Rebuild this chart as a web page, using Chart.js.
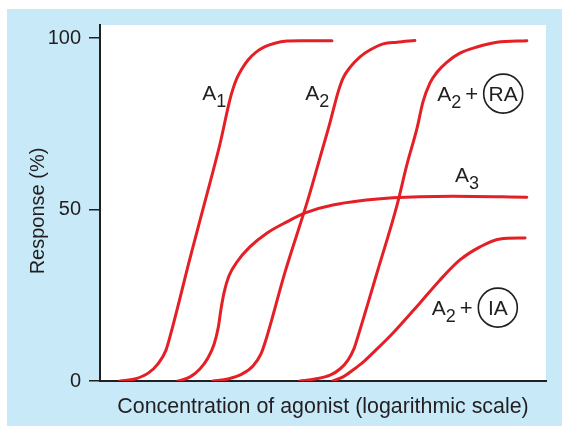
<!DOCTYPE html>
<html><head><meta charset="utf-8">
<script src="https://cdn.jsdelivr.net/npm/chart.js@4"></script>
<style>html,body{margin:0;padding:0;background:#fff;}canvas{display:block;}</style>
</head><body>
<canvas id="c" width="562" height="426"></canvas>
<script>
// ---- data (x: concentration, log scale, arbitrary units; y: response %) ----
const X_MIN = 0, X_MAX = 100;
const Y_MIN = 0, Y_MAX = 103.8;
const Y_TICKS = [0, 50, 100];

const A1_X = [4.5, 7.8, 10.8, 13.0, 14.8, 16.1, 20.2, 23.8, 26.9, 29.1, 29.8, 30.7, 31.8, 33.2, 35.0, 37.0, 39.2, 41.9, 44.8, 52.0];
const A1_Y = [0, 0.6, 2.3, 5.0, 9.0, 14.9, 35.9, 53.6, 69.1, 81.9, 85.1, 88.3, 91.0, 93.6, 95.9, 97.5, 98.5, 99.1, 99.2, 99.2];

const A2_X = [25.3, 28.7, 31.8, 34.3, 36.1, 37.2, 41.5, 46.6, 49.3, 51.6, 53.4, 54.5, 56.1, 58.3, 60.5, 63.5, 66.6, 70.6];
const A2_Y = [0, 0.6, 2.0, 4.4, 7.9, 12.0, 31.8, 52.8, 65.0, 75.5, 84.3, 88.3, 91.5, 94.5, 96.5, 98.3, 98.8, 99.3];

const A2RA_X = [44.8, 48.2, 51.6, 53.8, 55.6, 57.0, 57.6, 62.1, 66.6, 68.8, 71.1, 72.4, 74.0, 75.6, 77.8, 80.7, 84.5, 89.0, 95.7];
const A2RA_Y = [0, 0.6, 1.7, 3.5, 6.1, 9.6, 12.0, 31.5, 51.3, 63.0, 73.8, 81.3, 86.9, 90.1, 93.0, 95.6, 97.4, 98.8, 99.2];

const A3_X = [17.5, 20.2, 22.4, 24.2, 25.6, 26.5, 27.1, 27.8, 28.9, 30.7, 33.6, 37.4, 41.9, 46.0, 52.2, 65.7, 79.1, 95.7];
const A3_Y = [0, 1.2, 3.5, 6.7, 10.8, 15.5, 20.7, 25.7, 30.6, 34.7, 39.1, 43.1, 46.4, 49.0, 51.3, 53.4, 53.9, 53.6];

const A2IA_X = [52.2, 54.5, 56.7, 59.0, 61.2, 65.7, 71.7, 76.2, 80.7, 85.2, 89.7, 95.3];
const A2IA_Y = [0, 1.2, 3.2, 5.5, 8.2, 14.0, 22.7, 29.4, 35.3, 39.1, 41.4, 41.7];

// curve labels: anchor (data coords), subscript, circled antagonist
const LABEL_X = [22.9, 46.0, 75.6, 79.6, 74.4];
const LABEL_Y = [81.9, 81.9, 81.6, 58.0, 19.2];
const LABEL_SUB = ['1', '2', '2', '3', '2'];
const LABEL_CIRCLE = [null, null, 'RA', null, 'IA'];

const X_TITLE = 'Concentration of agonist (logarithmic scale)';
const Y_TITLE = 'Response (%)';

// ---- styles ----
const RED = '#e41f26';
const INK = '#231f20';
const BLUE = '#c7e9f8';
const FONT = '"Liberation Sans", Arial, Helvetica, sans-serif';
Chart.defaults.font.family = FONT;

function pts(xs, ys) { return xs.map((x, i) => ({ x: x, y: ys[i] })); }

const bgPlugin = {
  id: 'bg',
  beforeDraw(chart) {
    const { ctx, chartArea: a } = chart;
    ctx.save();
    ctx.fillStyle = '#ffffff';
    ctx.fillRect(0, 0, chart.width, chart.height);
    ctx.fillStyle = BLUE;
    ctx.fillRect(7, 9, chart.width - 7, chart.height - 9);
    ctx.fillStyle = '#ffffff';
    ctx.fillRect(a.left, a.top, a.right - a.left, a.bottom - a.top);
    ctx.restore();
  }
};

const labelPlugin = {
  id: 'labels',
  afterDraw(chart) {
    const { ctx, scales, chartArea: a } = chart;
    ctx.save();
    ctx.fillStyle = INK;
    ctx.strokeStyle = INK;
    // y-axis title
    ctx.save();
    ctx.translate(38, (a.top + a.bottom) / 2 + 8);
    ctx.rotate(-Math.PI / 2);
    ctx.font = '20px ' + FONT;
    ctx.textAlign = 'center';
    ctx.textBaseline = 'middle';
    ctx.fillText(Y_TITLE, 0, 0);
    ctx.restore();

    ctx.textBaseline = 'alphabetic';
    ctx.textAlign = 'left';
    LABEL_X.forEach((lx, i) => {
      const x = scales.x.getPixelForValue(lx);
      const y = scales.y.getPixelForValue(LABEL_Y[i]);
      ctx.font = '21px ' + FONT;
      ctx.fillText('A', x, y);
      const wA = ctx.measureText('A').width;
      ctx.font = '18px ' + FONT;
      ctx.fillText(LABEL_SUB[i], x + wA, y + 7);
      if (LABEL_CIRCLE[i]) {
        ctx.font = '22px ' + FONT;
        ctx.fillText('+', x + 28, y);
        const cx = x + 66, cy = y - 7.5;
        ctx.lineWidth = 1.6;
        ctx.beginPath();
        ctx.arc(cx, cy, 19.5, 0, Math.PI * 2);
        ctx.stroke();
        ctx.font = '21px ' + FONT;
        ctx.textAlign = 'center';
        ctx.fillText(LABEL_CIRCLE[i], cx, y);
        ctx.textAlign = 'left';
      }
    });
    ctx.restore();
  }
};

new Chart(document.getElementById('c'), {
  type: 'line',
  data: {
    datasets: [
      { label: 'A1', data: pts(A1_X, A1_Y) },
      { label: 'A2', data: pts(A2_X, A2_Y) },
      { label: 'A2 + RA', data: pts(A2RA_X, A2RA_Y) },
      { label: 'A3', data: pts(A3_X, A3_Y) },
      { label: 'A2 + IA', data: pts(A2IA_X, A2IA_Y) }
    ]
  },
  options: {
    responsive: false,
    animation: false,
    devicePixelRatio: 1,
    layout: { padding: { left: 0, top: 25, right: 16, bottom: 0 } },
    plugins: { legend: { display: false }, tooltip: { enabled: false } },
    elements: {
      point: { radius: 0 },
      line: { borderWidth: 3, borderColor: RED, cubicInterpolationMode: 'monotone', fill: false, borderCapStyle: 'round', borderJoinStyle: 'round' }
    },
    scales: {
      x: {
        type: 'linear', min: X_MIN, max: X_MAX,
        ticks: { display: false },
        grid: { display: false, drawTicks: false },
        border: { display: true, color: INK, width: 2 },
        title: { display: true, text: X_TITLE, color: INK, font: { size: 21.4 }, padding: { top: 0, bottom: 6 } },
        afterFit(s) { s.height = 45; }
      },
      y: {
        type: 'linear', min: Y_MIN, max: Y_MAX,
        afterBuildTicks(s) { s.ticks = Y_TICKS.map(v => ({ value: v })); },
        ticks: { color: INK, font: { size: 20 }, padding: 8 },
        grid: { drawOnChartArea: false, drawTicks: true, tickLength: 11, color: INK, lineWidth: 1.5 },
        border: { display: true, color: INK, width: 2 },
        title: { display: false },
        afterFit(s) { s.width = 100; }
      }
    }
  },
  plugins: [bgPlugin, labelPlugin]
});
</script>
</body></html>
